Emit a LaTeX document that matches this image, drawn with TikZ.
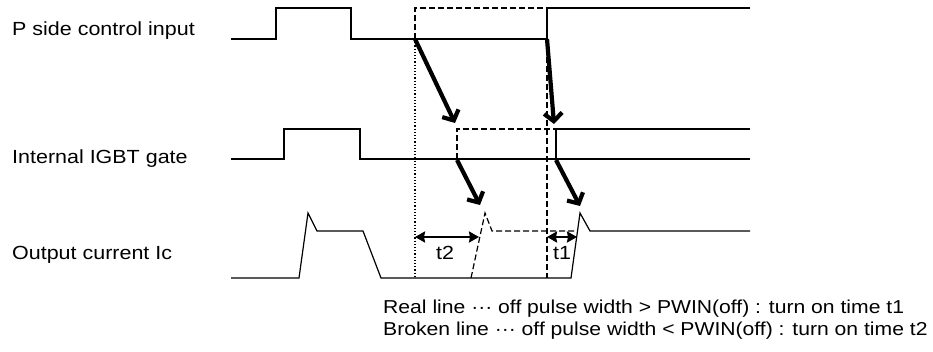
\documentclass[tikz,border=0pt]{standalone}
\usepackage{fontspec}
\setmainfont[FakeStretch=1.13]{Liberation Sans}
\usetikzlibrary{arrows.meta,calc}

\begin{document}
\begin{tikzpicture}[x=1pt,y=-1pt,>=stealth,
  wave/.style={line width=1.2pt},
  broken/.style={line width=1.2pt,dash pattern=on 6pt off 3pt},
  guide/.style={line width=1.2pt,dash pattern=on 1.2pt off 2pt},
  cause/.style={line width=4.2pt,-{Straight Barb[length=8pt,width=18pt]}},
  delay/.style={line width=2.6pt,{Stealth[length=10pt,width=11pt,inset=1pt]}-{Stealth[length=10pt,width=11pt,inset=1pt]}},
  lbl/.style={anchor=base west,inner sep=0pt,font=\fontsize{19}{22}\selectfont},
  note/.style={lbl,font=\fontsize{18.7}{22}\selectfont}]
  \useasboundingbox (0,0) rectangle (933,352);
  % Signal names
  \node[lbl](P) at (12,36) {P side control input};
  \node[lbl](G) at (12,164) {Internal IGBT gate};
  \node[lbl](I) at (12,260) {Output current Ic};
  % Waveforms
  \draw[wave] (231,39) -- (276,39) -- (276,8) -- (351,8) -- (351,39) -- (547,39) -- (547,8) -- (750,8);
  \draw[broken] (415,39) -- (415,8) -- (617,8);
  \draw[wave] (231,159) -- (284,159) -- (284,129) -- (360,129) -- (360,159) -- (750,159);
  \draw[wave] (556,159) -- (556,129) -- (750,129);
  \draw[broken] (457,159) -- (457,129) -- (657,129);
  \draw[wave] (231,278) -- (299,278) -- (308,213) -- (317,231) -- (363,231) -- (381,278) -- (571,278) -- (580,213) -- (590,231) -- (750,231);
  \draw[broken] (471,278) -- (485,213) -- (492,231) -- (577,231);
  % Timing marks
  \coordinate (pOff) at (415,39);
  \coordinate (pOn) at (547,39);
  \coordinate (gOff) at (457,160);
  \coordinate (gOn) at (556,160);
  \draw[guide] (pOff) -- (pOff |- 0,278);
  \draw[broken] (pOn) -- (pOn |- 0,278);
  % Edges
  \coordinate (gOffTip) at (455,123);
  \coordinate (gOnTip) at (554,124);
  \coordinate (iOffTip) at (480,205);
  \coordinate (iOnTip) at (580,206);
  \draw[cause] (pOff) -- (gOffTip);
  \draw[cause] (pOn) -- (gOnTip);
  \draw[cause] (gOff) -- (iOffTip);
  \draw[cause] (gOn) -- (iOnTip);
  \coordinate (t2a) at (415,237);
  \coordinate (t2b) at (479,237);
  \coordinate (t1a) at (547,237);
  \coordinate (t1b) at (577,237);
  \draw[delay] (t2a) -- (t2b);
  \draw[delay] (t1a) -- (t1b);
  \node[lbl, anchor=base](T2) at (445,260) {t2};
  \node[lbl, anchor=base](T1) at (562,260) {t1};
  % Notes
  \node[note](N1) at (383,313) {Real line ··· off pulse width > PWIN(off) : turn on time t1};
  \node[note](N2) at (383,335) {Broken line ··· off pulse width < PWIN(off) : turn on time t2};
\end{tikzpicture}
\end{document}
